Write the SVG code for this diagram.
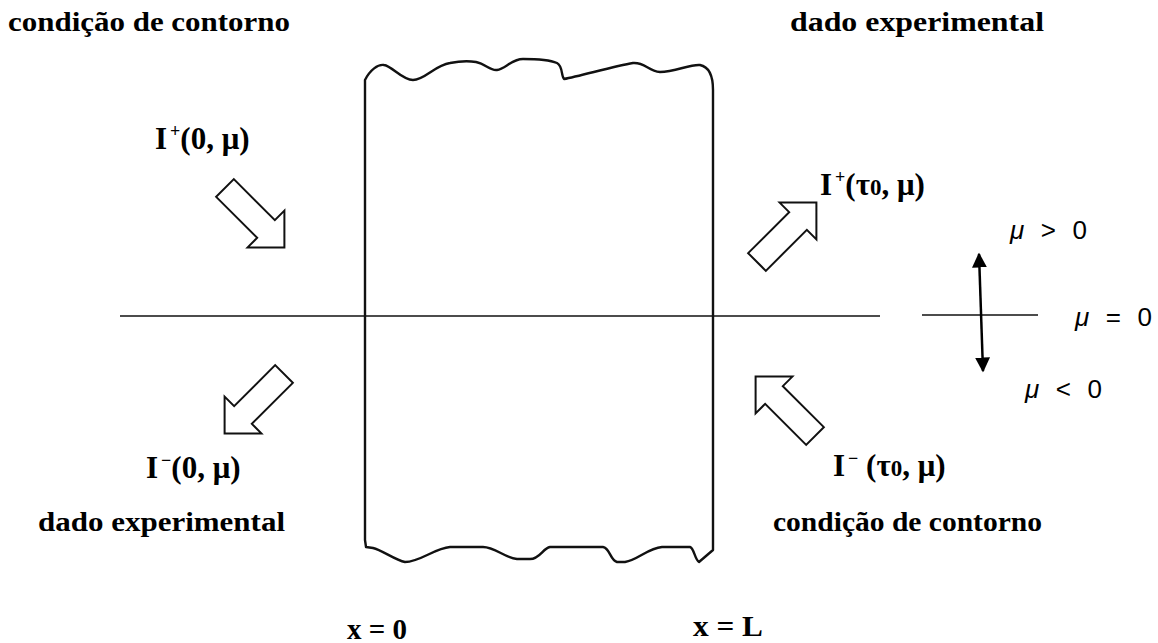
<svg xmlns="http://www.w3.org/2000/svg" width="1158" height="643" viewBox="0 0 1158 643">
<defs>
<style>
.lbl{font-family:"Liberation Serif",serif;font-weight:bold;font-size:28px;fill:#000}
.eq{font-family:"Liberation Serif",serif;font-weight:bold;font-size:31px;fill:#000}
.xl{font-family:"Liberation Serif",serif;font-weight:bold;font-size:30px;fill:#000}
.mu{font-family:"Liberation Sans",sans-serif;font-size:26px;fill:#000}
.blk{fill:#fff;stroke:#111;stroke-width:2;stroke-linejoin:miter}
.ln{stroke:#111;stroke-width:1.6;fill:none}
</style>
<marker id="ah" viewBox="0 0 10 10" refX="9" refY="5" markerWidth="6" markerHeight="6" orient="auto-start-reverse" markerUnits="strokeWidth">
<path d="M0,0 L10,5 L0,10 Z" fill="#000"/>
</marker>
<polygon id="barrow" points="0,-12.5 58,-12.5 58,-26 84,0 58,26 58,12.5 0,12.5"/>
</defs>
<rect width="1158" height="643" fill="#fff"/>

<g id="connectors">
<line class="ln" x1="120" y1="316" x2="880" y2="316"/>
<line class="ln" x1="922" y1="315" x2="1038" y2="315"/>
<line stroke="#000" stroke-width="2.5" x1="979" y1="254" x2="983" y2="371" marker-start="url(#ah)" marker-end="url(#ah)"/>
</g>

<g id="slab">
<path fill="none" stroke="#111" stroke-width="2.4" stroke-linejoin="round" d="M365,540 L365,80 C370,70 378,64 384,65 C392,66 402,80 413,80 C425,80 435,65 450,63 C460,61 470,61 476,62 C486,64 490,71 497,70 C505,69 512,59 523,59 C535,59 550,60 557,63 C563,66 561,76 564,79 C580,76 615,66 633,63 C645,62 648,71 660,72 C675,72 690,64 700,65 C710,67 713,78 713,90 L713,550 L699,562 C695,560 694,548 690,547 L662,547 C648,548 638,560 625,562 L617,562 C610,560 610,548 603,547 L550,547 C543,548 540,559 530,559 L517,559 C505,558 495,547 483,547 L450,547 C435,548 420,562 405,562 C395,560 382,550 373,548 L366,547 Z"/>
</g>

<g id="arrow-in-left"><use href="#barrow" class="blk" transform="translate(225,188) rotate(45)"/></g>
<g id="arrow-out-left"><use href="#barrow" class="blk" transform="translate(284,374) rotate(135)"/></g>
<g id="arrow-out-right"><use href="#barrow" class="blk" transform="translate(757,262) rotate(-45)"/></g>
<g id="arrow-in-right"><use href="#barrow" class="blk" transform="translate(815,436) rotate(-135)"/></g>

<g id="labels">
<text class="lbl" x="8" y="31" textLength="282" lengthAdjust="spacingAndGlyphs">condição de contorno</text>
<text class="lbl" x="790" y="31" textLength="254" lengthAdjust="spacingAndGlyphs">dado experimental</text>
<text class="lbl" x="38" y="531" textLength="247" lengthAdjust="spacingAndGlyphs">dado experimental</text>
<text class="lbl" x="773" y="531" textLength="269" lengthAdjust="spacingAndGlyphs">condição de contorno</text>
<text class="xl" x="347" y="639" textLength="60" lengthAdjust="spacingAndGlyphs">x = 0</text>
<text class="xl" x="693" y="636" textLength="70" lengthAdjust="spacingAndGlyphs">x = L</text>

<text class="eq" x="155" y="149">I<tspan font-size="18" dx="3" dy="-12">+</tspan><tspan dy="12">(0, μ)</tspan></text>
<text class="eq" x="820" y="195">I<tspan font-size="18" dx="3" dy="-12">+</tspan><tspan dy="12">(τ</tspan><tspan font-size="23">0</tspan><tspan>, μ)</tspan></text>
<text class="eq" x="146" y="478">I<tspan font-size="18" dx="3" dy="-12">−</tspan><tspan dy="12">(0, μ)</tspan></text>
<text class="eq" x="833" y="476">I<tspan font-size="18" dx="3" dy="-12">−</tspan><tspan dy="12"> (τ</tspan><tspan font-size="23">0</tspan><tspan>, μ)</tspan></text>

<text class="mu" x="1010" y="239" textLength="77" lengthAdjust="spacing"><tspan font-style="italic">μ</tspan> &gt; 0</text>
<text class="mu" x="1075" y="326" textLength="77" lengthAdjust="spacing"><tspan font-style="italic">μ</tspan> = 0</text>
<text class="mu" x="1025" y="398" textLength="77" lengthAdjust="spacing"><tspan font-style="italic">μ</tspan> &lt; 0</text>
</g>
</svg>
